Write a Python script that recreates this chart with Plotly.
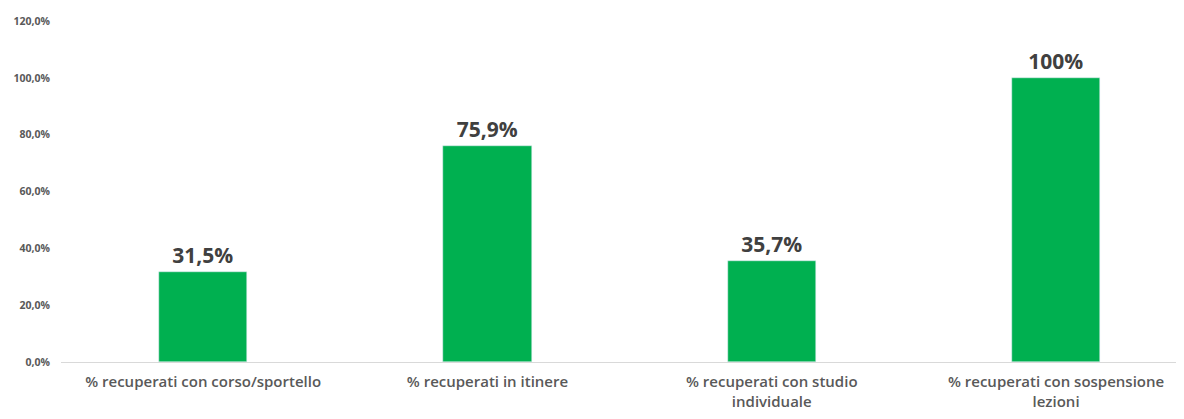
import plotly.graph_objects as go

categories = [
    "% recuperati con corso/sportello",
    "% recuperati in itinere",
    "% recuperati con studio<br>individuale",
    "% recuperati con sospensione<br>lezioni",
]
values = [0.315, 0.759, 0.357, 1.0]
labels = ["31,5%", "75,9%", "35,7%", "100%"]
tick_vals = [0, 0.2, 0.4, 0.6, 0.8, 1.0, 1.2]

fig = go.Figure()
fig.add_trace(go.Bar(
    x=list(range(len(categories))),
    y=values,
    text=labels,
    textposition="outside",
    textfont=dict(size=21, color="#404040", family="Open Sans", weight="bold"),
    marker=dict(color="#00b050"),
    width=0.31,
    cliponaxis=False,
))
fig.update_layout(
    width=1176, height=411,
    margin=dict(l=53, r=0, t=13, b=57),
    paper_bgcolor="white", plot_bgcolor="white",
    separators=",.",
    showlegend=False,
    bargap=0,
)
fig.update_xaxes(
    tickmode="array", tickvals=list(range(len(categories))), ticktext=categories,
    range=[-0.5, 3.45],
    showline=True, linecolor="#d9d9d9", linewidth=1,
    tickfont=dict(size=15, color="#595959", family="Open Sans", weight=600),
    showgrid=False, zeroline=False, ticks="",
    automargin=False, ticklabelstandoff=6,
)
fig.update_yaxes(
    range=[0, 1.2], tickvals=tick_vals, tickformat=".1%",
    showgrid=False, zeroline=False, showline=False,
    tickfont=dict(size=10.5, color="#595959", family="Open Sans", weight="bold"),
    ticklabelstandoff=10, automargin=False,
)
fig.write_html("out.html")
